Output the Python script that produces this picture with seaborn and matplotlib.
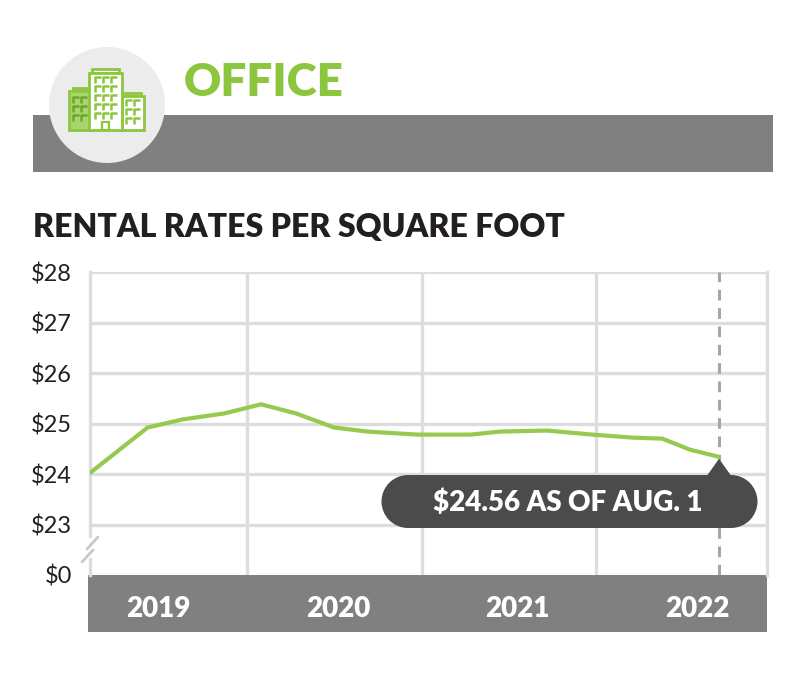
import matplotlib
matplotlib.use("Agg")
import matplotlib.pyplot as plt
import seaborn as sns
import pandas as pd
from matplotlib.patches import Rectangle, Polygon, Circle

# ---------------- data ----------------
x_years = [2019.10, 2019.43, 2019.63, 2019.87, 2020.08, 2020.28, 2020.50,
           2020.69, 2020.98, 2021.28, 2021.45, 2021.72, 2021.98, 2022.21,
           2022.38, 2022.54, 2022.705]
rates = [24.02, 24.92, 25.08, 25.20, 25.38, 25.20, 24.92,
         24.84, 24.78, 24.78, 24.84, 24.86, 24.78, 24.72,
         24.70, 24.48, 24.34]
y_ticks = [23, 24, 25, 26, 27, 28]
y_tick_labels = ["$23", "$24", "$25", "$26", "$27", "$28"]
year_labels = ["2019", "2020", "2021", "2022"]
year_label_pos = [2019.49, 2020.52, 2021.55, 2022.58]
year_grid = [2020, 2021, 2022]
callout_text = "$24.56 AS OF AUG. 1"
title = "RENTAL RATES PER SQUARE FOOT"
header = "OFFICE"

GREEN = "#8cc63f"
LINE_GREEN = "#96ca4f"
GREY_BAR = "#808080"
GRID = "#dddddd"
DARK = "#231f20"
CALLOUT = "#4b4b4b"

sns.set_theme(style="white")
plt.rcParams["font.family"] = ["Lato", "DejaVu Sans"]

W, H = 800, 685
fig = plt.figure(figsize=(8, 6.85), dpi=100)
fig.patch.set_facecolor("white")

def fr(px_l, px_t, px_r, px_b):
    return [px_l / W, 1 - px_b / H, (px_r - px_l) / W, (px_b - px_t) / H]

# ---------------- main chart ----------------
ax = fig.add_axes(fr(90, 272, 767, 575))
df = pd.DataFrame({"x": x_years, "rate": rates})
sns.lineplot(data=df, x="x", y="rate", ax=ax, color=LINE_GREEN, linewidth=3.0,
             zorder=5, legend=False)
ax.set_xlim(2019.10, 2022.98)
ax.set_ylim(22.0, 28.0)
ax.set_xlabel("")
ax.set_ylabel("")

ax.set_yticks(y_ticks)
ax.set_yticklabels(y_tick_labels)
ax.set_yticks([22.0], minor=True)
ax.set_yticklabels(["$0"], minor=True)
ax.tick_params(axis="y", which="both", length=0, pad=13, labelsize=17,
               labelcolor=DARK)
ax.grid(axis="y", which="major", color=GRID, linewidth=2.4)

ax.set_xticks(year_label_pos)
ax.set_xticklabels(year_labels)
ax.set_xticks(year_grid, minor=True)
ax.tick_params(axis="x", which="both", length=0)
ax.tick_params(axis="x", which="major", pad=15, labelsize=20,
               labelcolor="white")
for lab in ax.get_xticklabels():
    lab.set_fontweight("heavy")
ax.grid(axis="x", which="minor", color=GRID, linewidth=2.4)
ax.grid(axis="x", which="major", visible=False)

for s in ["top", "bottom"]:
    ax.spines[s].set_visible(False)
for s in ["left", "right"]:
    ax.spines[s].set_color(GRID)
    ax.spines[s].set_linewidth(2.4)

# dashed marker line at latest value
ax.axvline(x_years[-1], color="#a6a6a6", linewidth=2.2, linestyle=(0, (3.5, 2.5)),
           zorder=3)

# gray bar below plot area (drawn under the tick labels)
bar = Rectangle((-0.003, -57 / 303), 1.003, 57 / 303, transform=ax.transAxes,
                facecolor=GREY_BAR, edgecolor="none", clip_on=False, zorder=0.2)
ax.add_patch(bar)

# ---------------- overlay in pixel coords ----------------
ov = fig.add_axes([0, 0, 1, 1], facecolor="none")
ov.set_xlim(0, W)
ov.set_ylim(H, 0)
ov.axis("off")

# axis break marks
ov.add_patch(Rectangle((84, 538), 12, 20, facecolor="white", edgecolor="none", zorder=2))
ov.plot([82, 93], [562, 550], color="#c8c8c8", lw=2.0, zorder=3)
ov.plot([87, 98], [549, 537], color="#c8c8c8", lw=2.0, zorder=3)

# header bar and circle
ov.add_patch(Rectangle((33, 115), 740, 57, facecolor=GREY_BAR, edgecolor="none", zorder=1))
ov.add_patch(Circle((107, 105), 58, facecolor="#ececec", edgecolor="none", zorder=2))

# building icon
def bld(x0, y0, x1, y1, fill, zo=3):
    ov.add_patch(Rectangle((x0, y0), x1 - x0, y1 - y0, facecolor=fill,
                           edgecolor=GREEN, linewidth=2.0, zorder=zo))

def win(x, y, c):
    ov.plot([x, x, x + 5.5], [y + 5.5, y, y], color=c, lw=1.8, zorder=6,
            solid_capstyle="butt")

bld(73, 88, 90, 91, "#a9d46e")
bld(69, 91, 92, 130, "#a9d46e")
bld(125, 93, 141, 96, "white")
bld(122, 96, 144, 130, "white")
bld(92, 69, 119, 73, "white", zo=4)
bld(89, 73, 122, 130, "white", zo=4)
for cx in [95, 103, 111]:
    for ry in [77, 86, 95, 104, 113]:
        win(cx, ry, GREEN)
for cx in [73, 81]:
    for ry in [97, 106, 115]:
        win(cx, ry, "#6fa52c")
for cx in [126, 134]:
    for ry in [100, 109, 118]:
        win(cx, ry, GREEN)
ov.add_patch(Rectangle((102, 122), 7, 8, facecolor="white", edgecolor=GREEN,
                       linewidth=1.6, zorder=6))

ov.text(184, 96, header, color=GREEN, fontsize=33, fontweight="heavy",
        ha="left", va="baseline", zorder=5)
ov.text(33, 237, title, color=DARK, fontsize=23, fontweight="heavy",
        ha="left", va="baseline", zorder=5)

# callout
tip = ax.transData.transform((x_years[-1], rates[-1]))
tipx, tipy = ov.transData.inverted().transform(tip)
ov.add_patch(Polygon([[tipx, tipy + 2], [tipx - 13, 477], [tipx + 13, 477]],
                     closed=True, facecolor=CALLOUT, edgecolor="none", zorder=7))
ov.add_patch(Rectangle((408, 475), 323, 53, facecolor=CALLOUT, edgecolor="none", zorder=7))
ov.add_patch(Circle((408, 501.5), 26.5, facecolor=CALLOUT, edgecolor="none", zorder=7))
ov.add_patch(Circle((731, 501.5), 26.5, facecolor=CALLOUT, edgecolor="none", zorder=7))
ov.text(568, 503, callout_text, color="white", fontsize=20, fontweight="heavy",
        ha="center", va="center", zorder=8)

fig.savefig("out.png", dpi=100)
